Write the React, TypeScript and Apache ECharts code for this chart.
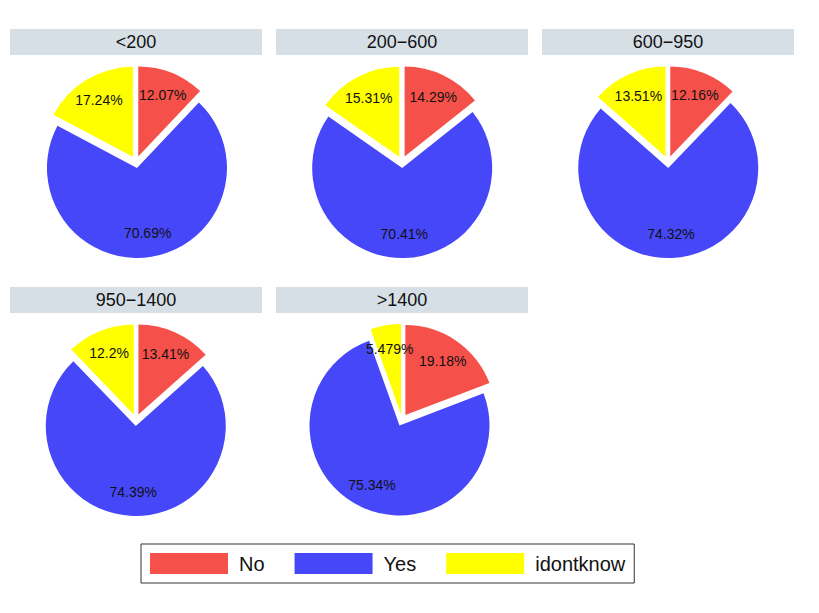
import React, { useEffect, useRef } from "react";
import * as echarts from "echarts";

const categories = ["No", "Yes", "idontknow"];
const colors = ["#F5514A", "#4747FA", "#FFFF00"];
const groups = ["<200", "200\u2212600", "600\u2212950", "950\u22121400", ">1400"];
const noValues = [12.07, 14.29, 12.16, 13.41, 19.18];
const yesValues = [70.69, 70.41, 74.32, 74.39, 75.34];
const idkValues = [17.24, 15.31, 13.51, 12.2, 5.479];

const panelX = [136, 402, 668];
const bandLeft = [10, 276, 542];
const rowBandTop = [29, 287];
const rowCenterY = [162, 420];

export default function App() {
  const ref = useRef<HTMLDivElement>(null);
  useEffect(() => {
    document.body.style.margin = "0";
    const chart = echarts.init(ref.current!, null, { renderer: "svg" });
    const series: any[] = [];
    const graphic: any[] = [];
    groups.forEach((g, i) => {
      const row = Math.floor(i / 3);
      const col = i % 3;
      const cx = panelX[col];
      const cy = rowCenterY[row];
      const vals = [noValues[i], yesValues[i], idkValues[i]];
      const data = categories.map((c, k) => ({
        name: c,
        value: vals[k],
        selected: true,
        itemStyle: { color: colors[k] },
      }));
      series.push({
        type: "pie",
        center: [cx, cy],
        radius: [0, 90],
        startAngle: 90,
        clockwise: true,
        selectedMode: "multiple",
        selectedOffset: 6,
        label: { show: false },
        labelLine: { show: false },
        emphasis: { disabled: true },
        select: { itemStyle: { borderWidth: 0 } },
        itemStyle: { borderWidth: 0 },
        silent: true,
        data,
      });
      series.push({
        type: "pie",
        center: [cx, cy],
        radius: [36, 90],
        startAngle: 90,
        clockwise: true,
        selectedMode: "multiple",
        selectedOffset: 6,
        avoidLabelOverlap: false,
        label: {
          show: true,
          position: "inside",
          formatter: "{c}%",
          color: "#111",
          fontSize: 14,
          fontFamily: "Liberation Sans",
        },
        labelLine: { show: false },
        emphasis: { disabled: true },
        itemStyle: { color: "rgba(0,0,0,0)", borderWidth: 0 },
        select: { itemStyle: { color: "rgba(0,0,0,0)", borderWidth: 0 } },
        silent: true,
        data: categories.map((c, k) => ({ name: c, value: vals[k], selected: true })),
      });
      graphic.push({
        type: "rect",
        shape: { x: bandLeft[col], y: rowBandTop[row], width: 252, height: 26 },
        style: { fill: "#D7DFE6" },
        silent: true,
      });
      graphic.push({
        type: "text",
        x: cx,
        y: rowBandTop[row] + 13,
        style: {
          text: g,
          fill: "#111",
          fontSize: 18,
          fontFamily: "Liberation Sans",
          align: "center",
          verticalAlign: "middle",
        },
        silent: true,
      });
    });
    chart.setOption({
      animation: false,
      backgroundColor: "#fff",
      graphic,
      legend: {
        left: 141,
        top: 544,
        orient: "horizontal",
        padding: [9, 9, 9, 9],
        itemWidth: 78,
        itemHeight: 21,
        itemGap: 30,
        borderColor: "#333",
        borderWidth: 1,
        selectedMode: false,
        icon: "rect",
        data: categories.map((c, k) => ({ name: c, itemStyle: { color: colors[k] } })),
        textStyle: {
          fontSize: 20,
          color: "#111",
          fontFamily: "Liberation Sans",
          padding: [0, 0, 0, 6],
        },
      },
      series,
    });
    return () => chart.dispose();
  }, []);
  return <div ref={ref} style={{ width: 819, height: 613 }} />;
}
